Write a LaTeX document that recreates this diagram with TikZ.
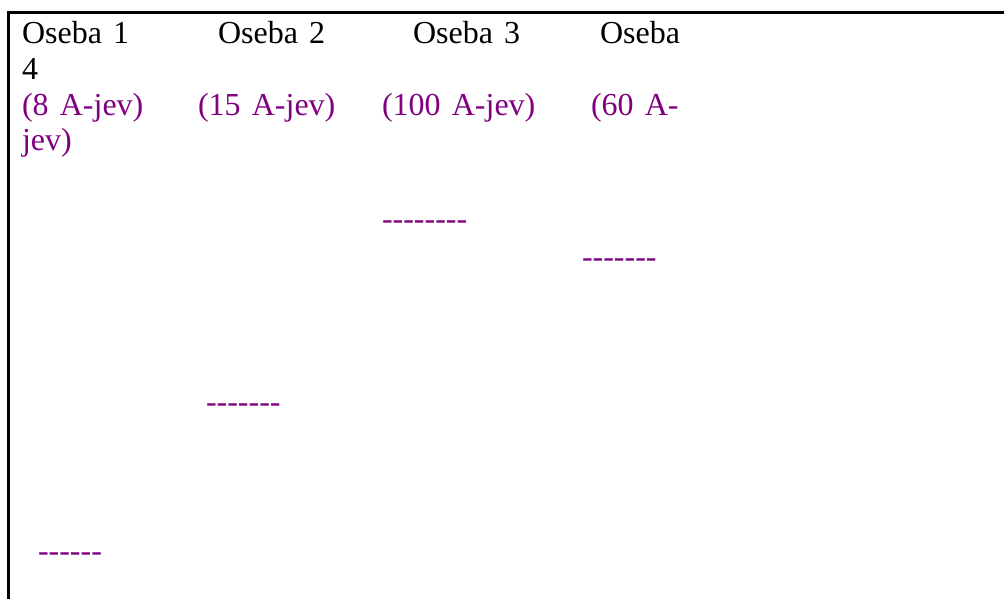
\documentclass[tikz,border=0pt]{standalone}
\usepackage{fontspec}
\setmainfont{Liberation Serif}
\definecolor{vio}{RGB}{128,0,128}
\newcommand\wsp{\spaceskip=0.35em\relax}
\tikzset{
  txt/.style={anchor=base west, inner sep=0pt, outer sep=0pt, font=\fontsize{32}{35}\selectfont\wsp, text=black},
  ptxt/.style={txt, text=vio},
  frame/.style={line width=3.5pt, black, line cap=butt}
}
\begin{document}
\begin{tikzpicture}[x=1pt,y=-1pt]
\useasboundingbox (0,0) rectangle (1004,599);
\coordinate (tl) at (7,12.5);
\coordinate (tr) at (1004,12.5);
\coordinate (lt) at (8.5,10.75);
\coordinate (lb) at (8.5,599);
\draw[frame] (tl) -- (tr);
\draw[frame] (lt) -- (lb);
\node[txt] (o1) at (22,44) {Oseba 1};
\node[txt] (o2) at (218,44) {Oseba 2};
\node[txt] (o3) at (413,44) {Oseba 3};
\node[txt] (o4) at (600,44) {Oseba};
\node[txt] (o4b) at (22,79.5) {4};
\node[ptxt] (a1) at (22,115.5) {(8 A-jev)};
\node[ptxt] (a2) at (198,115.5) {(15 A-jev)};
\node[ptxt] (a3) at (382,115.5) {(100 A-jev)};
\node[ptxt] (a4) at (591,115.5) {(60 A-};
\node[ptxt] (a4b) at (22,150.5) {jev)};
\node[ptxt] (d3) at (382,229) {-{}-{}-{}-{}-{}-{}-{}-};
\node[ptxt] (d4) at (582,267) {-{}-{}-{}-{}-{}-{}-};
\node[ptxt] (d2) at (206,412.5) {-{}-{}-{}-{}-{}-{}-};
\node[ptxt] (d1) at (38,561) {-{}-{}-{}-{}-{}-};
\end{tikzpicture}
\end{document}
